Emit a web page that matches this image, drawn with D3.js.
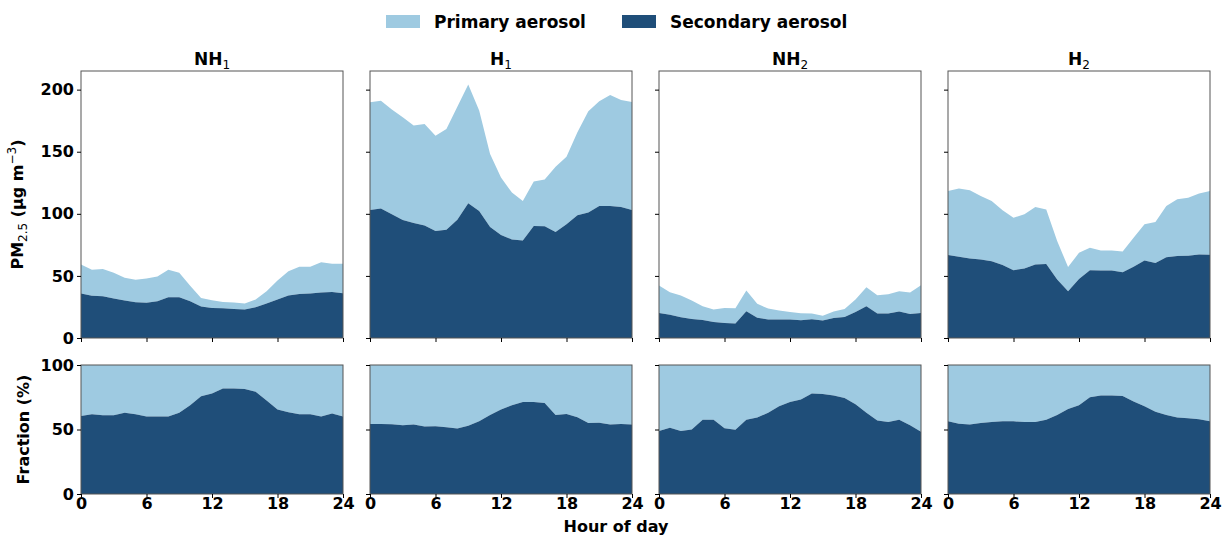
<!DOCTYPE html>
<html>
<head>
<meta charset="utf-8">
<script src="https://cdn.jsdelivr.net/npm/d3@7"></script>
<style>
  body { margin: 0; background: #fff; }
  svg text { font-family: "DejaVu Sans", sans-serif; fill: #000; }
  .tick text { font-weight: bold; font-size: 16px; }
  .tick line { stroke: #000; stroke-width: 1; }
  .domain { display: none; }
</style>
</head>
<body>
<svg id="chart"></svg>
<script>
// hours of the day (x axis)
var hours = [0,1,2,3,4,5,6,7,8,9,10,11,12,13,14,15,16,17,18,19,20,21,22,23,24];

// PM2.5 total (primary + secondary), ug m-3
var totalNH1 = [59.2,55,55.5,52.5,48.5,47,48,49.5,55,52.5,42,32.3,30.4,29,28.5,27.7,31,37.7,46.3,53.8,57.3,57.3,61,59.8,59.8];
var totalH1  = [189.8,191.1,183.9,177.7,171.2,172.3,162.9,168.3,186.3,204.1,183.1,148.1,129.2,117.1,110.4,126,127.6,137.8,145.9,165.6,182.5,190.6,195.7,191.7,190.1];
var totalNH2 = [42.3,36.9,34.2,30.2,25.6,22.9,24.2,24,38.2,27.5,23.7,22.1,21,19.9,19.7,18,21.3,23.4,31,40.9,34.5,35.3,37.7,36.6,42.5];
var totalH2  = [118.4,120.3,119,114.4,110.4,102.8,96.9,99.6,105.5,103.4,78.1,57.1,68.6,72.7,70.5,70.5,69.7,80.8,91.5,93.4,106.3,111.7,113,116.3,118.4];

// secondary aerosol, ug m-3
var secNH1 = [35.8,34,33.6,31.8,30.1,28.8,28.3,29.6,32.8,32.8,29.6,25.3,24.2,24,23.4,22.9,24.8,27.7,31,34.2,35.5,35.8,36.6,37.1,36];
var secH1  = [103.1,104.2,99.6,95,92.6,90.5,86.1,87.2,95.3,108.5,102.3,89.4,82.9,79.4,78.6,90.2,89.9,85.3,91.5,98.8,101,106.3,106.3,105.5,103.1];
var secNH2 = [20.2,18.8,16.7,15.3,14.5,12.9,12.1,11.6,21.5,16.4,14.8,14.8,14.8,14.3,15.1,14,16.2,17,21,25.6,19.7,19.7,21.3,19.4,20.2];
var secH2  = [66.8,65.4,64.1,63.3,61.9,58.7,54.6,56,59.2,59.5,47.1,37.7,47.6,54.6,54.4,54.4,53,57.3,62.5,60.3,65.1,66,66.2,67.3,67];

// secondary fraction, %
var fracNH1 = [60.5,61.8,61,61,63,61.8,60,60,60,63,68.8,75.8,78,81.8,81.8,81.3,79.3,72.5,65.5,63.3,61.8,61.8,60,62.5,60];
var fracH1  = [54.3,54.3,54,53.3,53.8,52.3,52.5,51.8,50.8,53,56.3,61.3,65.5,68.8,71.3,71.3,70.5,61.3,62,59.5,55,55.3,53.8,54.3,53.8];
var fracNH2 = [48.8,51.3,48.8,50,57.5,57.5,51,49.8,57.5,59.3,63,68,71.3,73.3,78,77.5,76.3,74.5,69.5,63,57,55.8,57.5,53.3,48.3];
var fracH2  = [56.3,54.5,53.8,55,55.8,56.3,56.3,55.8,55.8,57.5,61.3,65.8,68.8,75,76.3,76.3,76,71.8,68,63.8,61.3,59.3,58.8,58,56.3];

var sites = ['NH', 'H', 'NH', 'H'];
var siteNum = ['1', '1', '2', '2'];
var totals = [totalNH1, totalH1, totalNH2, totalH2];
var secs = [secNH1, secH1, secNH2, secH2];
var fracs = [fracNH1, fracH1, fracNH2, fracH2];

var xTicks = [0, 6, 12, 18, 24];
var pmTicks = [0, 50, 100, 150, 200];
var fracTicks = [0, 50, 100];
var legendLabels = ['Primary aerosol', 'Secondary aerosol'];

var light = '#9ecae1', dark = '#1f4e79';

var width = 1222, height = 536;
var svg = d3.select('#chart').attr('width', width).attr('height', height);

// panel layout
var panelW = 262, panelStep = 289, left0 = 81;
var topY0 = 71, topY1 = 338, botY0 = 365, botY1 = 494;

var x = d3.scaleLinear().domain([0, 24]);
var yPM = d3.scaleLinear().domain([0, 215]).range([topY1, topY0]);
var yFr = d3.scaleLinear().domain([0, 100]).range([botY1, botY0]);

sites.forEach(function(site, i) {
  var left = left0 + i * panelStep;
  var xs = x.copy().range([left, left + panelW]);

  // top panel: concentration
  var g = svg.append('g');
  var areaSec = d3.area()
    .x(function(d, j){ return xs(hours[j]); })
    .y0(yPM(0))
    .y1(function(d){ return yPM(d); });
  var areaPri = d3.area()
    .x(function(d, j){ return xs(hours[j]); })
    .y0(function(d, j){ return yPM(secs[i][j]); })
    .y1(function(d){ return yPM(d); });
  g.append('path').attr('d', areaPri(totals[i])).attr('fill', light);
  g.append('path').attr('d', areaSec(secs[i])).attr('fill', dark);

  // bottom panel: fraction
  var gb = svg.append('g');
  var frSec = d3.area()
    .x(function(d, j){ return xs(hours[j]); })
    .y0(yFr(0))
    .y1(function(d){ return yFr(d); });
  var frPri = d3.area()
    .x(function(d, j){ return xs(hours[j]); })
    .y0(function(d){ return yFr(d); })
    .y1(yFr(100));
  gb.append('path').attr('d', frPri(fracs[i])).attr('fill', light);
  gb.append('path').attr('d', frSec(fracs[i])).attr('fill', dark);

  // frames
  [[topY0, topY1], [botY0, botY1]].forEach(function(r) {
    svg.append('rect')
      .attr('x', left).attr('y', r[0])
      .attr('width', panelW).attr('height', r[1] - r[0])
      .attr('fill', 'none').attr('stroke', '#555').attr('stroke-width', 1);
  });

  // axes
  var yAxTop = d3.axisLeft(yPM).tickValues(pmTicks).tickSize(4).tickPadding(3);
  var yAxBot = d3.axisLeft(yFr).tickValues(fracTicks).tickSize(4).tickPadding(3);
  if (i > 0) { yAxTop.tickFormat(''); yAxBot.tickFormat(''); }
  svg.append('g').attr('transform', 'translate(' + left + ',0)').call(yAxTop);
  svg.append('g').attr('transform', 'translate(' + left + ',0)').call(yAxBot);

  svg.append('g').attr('transform', 'translate(0,' + topY1 + ')')
    .call(d3.axisBottom(xs).tickValues(xTicks).tickSize(4).tickFormat(''));
  svg.append('g').attr('transform', 'translate(0,' + botY1 + ')')
    .call(d3.axisBottom(xs).tickValues(xTicks).tickSize(4).tickPadding(0));

  // title
  var t = svg.append('text')
    .attr('x', left + panelW / 2).attr('y', 65)
    .attr('text-anchor', 'middle')
    .style('font-size', '17px').style('font-weight', 'bold');
  t.append('tspan').text(site);
  t.append('tspan').text(siteNum[i]).attr('dy', 4)
    .style('font-size', '12px').style('font-weight', 'normal');
});

// y labels
var yl = svg.append('text')
  .attr('transform', 'translate(23,' + ((topY0 + topY1) / 2) + ') rotate(-90)')
  .attr('text-anchor', 'middle')
  .style('font-size', '16px').style('font-weight', 'bold');
yl.append('tspan').text('PM');
yl.append('tspan').text('2.5').attr('dy', 4).style('font-size', '12px').style('font-weight', 'normal');
yl.append('tspan').text(' (μg m').attr('dy', -4);
yl.append('tspan').text('−3').attr('dy', -7).style('font-size', '12px').style('font-weight', 'normal');
yl.append('tspan').text(')').attr('dy', 7);

svg.append('text')
  .attr('transform', 'translate(29,' + ((botY0 + botY1) / 2) + ') rotate(-90)')
  .attr('text-anchor', 'middle')
  .style('font-size', '16px').style('font-weight', 'bold')
  .text('Fraction (%)');

svg.append('text')
  .attr('x', 616).attr('y', 532)
  .attr('text-anchor', 'middle')
  .style('font-size', '16px').style('font-weight', 'bold')
  .text('Hour of day');

// legend
var legend = svg.append('g');
var legX = [386, 622];
legendLabels.forEach(function(lab, k) {
  legend.append('rect')
    .attr('x', legX[k]).attr('y', 15).attr('width', 34).attr('height', 13)
    .attr('fill', k === 0 ? light : dark);
  legend.append('text')
    .attr('x', legX[k] + 48).attr('y', 28)
    .style('font-size', '17px').style('font-weight', 'bold')
    .text(lab);
});
</script>
</body>
</html>
